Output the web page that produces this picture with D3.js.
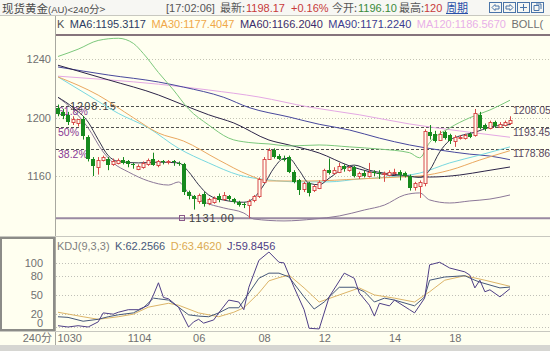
<!DOCTYPE html>
<html>
<head>
<meta charset="utf-8">
<script src="https://cdn.jsdelivr.net/npm/d3@7"></script>
<style>
  body { margin: 0; background: #fffff0; }
  svg { display: block; }
  text { font-family: "Liberation Sans", Arial, sans-serif; }
</style>
</head>
<body>
<svg id="chart" width="550" height="351"></svg>
<script>
// ---- candles (240 min), index 0 = 10/30 first bar ----
const opens  = [1207,1204,1202,1197,1196,1199,1187,1172,1166,1171,1172,1168,1169,1171,1170,1168,1165,1166,1168,1172,
                1167,1170,1169,1170,1169,1168,1149,1146,1143,1148,1141,1142,1146,1144,1146,1144,1142,1141,1140,1143,
                1146,1156,1172,1178,1174,1172,1173,1163,1157,1151,1155,1150,1152,1157,1164,1162,1163,1167,1164,1166,
                1160,1162,1160,1163,1162,1161,1161,1162,1163,1162,1160,1152,1153,1155,1190,1189,1185,1190,1188,1184,
                1186,1186,1189,1188,1202,1195,1193,1197,1194,1195,1196];
const highs  = [1209,1206,1204,1201,1199,1201,1188,1173,1173,1174,1173,1172,1172,1173,1171,1169,1168,1170,1172,1176,
                1171,1171,1171,1171,1170,1169,1150,1147,1148,1149,1145,1146,1148,1149,1147,1145,1143,1142,1144,1147,
                1159,1173,1179,1179,1175,1174,1174,1164,1158,1156,1156,1154,1157,1165,1172,1166,1169,1168,1167,1167,
                1163,1164,1169,1164,1164,1163,1164,1165,1164,1163,1161,1156,1157,1192,1195,1191,1191,1191,1189,1188,
                1188,1189,1190,1206,1204,1196,1198,1198,1197,1198,1201];
const lows   = [1201,1199,1195,1195,1194,1185,1170,1160,1161,1170,1164,1167,1168,1168,1166,1165,1164,1165,1167,1167,
                1166,1168,1168,1167,1167,1147,1144,1137,1141,1139,1140,1141,1142,1143,1143,1141,1139,1138,1131,1142,
                1145,1155,1171,1172,1171,1170,1162,1155,1147,1149,1146,1149,1151,1156,1161,1161,1162,1163,1163,1159,
                1158,1159,1159,1160,1158,1156,1160,1161,1157,1159,1150,1150,1145,1153,1185,1183,1184,1185,1182,1180,
                1185,1185,1186,1187,1192,1191,1192,1193,1193,1194,1195];
const closes = [1203,1201,1197,1199,1199,1187,1172,1167,1171,1173,1168,1170,1171,1169,1168,1167,1167,1169,1171,1168,
                1170,1169,1170,1169,1168,1149,1146,1144,1147,1141,1144,1145,1143,1147,1144,1142,1140,1140,1143,1146,
                1158,1172,1178,1173,1172,1171,1163,1156,1150,1155,1148,1153,1156,1164,1162,1164,1167,1165,1166,1160,
                1162,1160,1163,1162,1161,1162,1163,1163,1161,1160,1152,1155,1156,1191,1187,1184,1189,1186,1184,1187,
                1187,1188,1187,1203,1193,1192,1197,1194,1196,1197,1198.17];

// ---- moving averages / bollinger, read as [bar index, price] ----
const ma6 = [[0,1214],[3,1207],[6,1197],[8,1185],[10,1174],[12,1170],[16,1169],[20,1169.5],[24,1169],[26,1163],
             [28,1154],[30,1147],[33,1143.5],[37,1142],[39,1145],[41,1154],[43,1165.5],[45,1172],[46,1172],[48,1164],
             [50,1155],[52,1154],[54,1158.5],[57,1165.5],[59,1167.5],[62,1164],[66,1161.5],[70,1160],[72,1159],[74,1164],
             [76,1176.5],[78,1184.5],[80,1187.5],[83,1190],[86,1193.5],[90,1195.3]];
const ma30 = [[0,1228],[8,1215.5],[15,1200],[20,1189.5],[25,1184],[32,1171],[38,1160.7],[42,1156.6],[50,1156.6],
              [60,1158],[68,1159.3],[72,1160],[78,1164],[84,1171],[90,1177.4]];
const ma60 = [[0,1236],[10,1226],[20,1215.6],[25,1208.7],[30,1202],[35,1196.4],[42,1184.7],[46,1181.3],[52,1175.8],
              [58,1167],[62,1163],[68,1160],[74,1159.3],[80,1160.7],[85,1163.4],[90,1166.2]];
const ma90 = [[0,1234.8],[10,1229.3],[20,1224.5],[25,1221],[33,1214],[38,1207],[46,1200.5],[52,1195.5],[58,1191.6],
              [64,1186],[70,1181.3],[76,1177.8],[82,1175],[86,1173.7],[90,1171.2]];
const ma120 = [[0,1228.5],[10,1226],[20,1223],[30,1219],[40,1214.2],[50,1207.3],[60,1202],[70,1195.7],[80,1190.9],[90,1186.6]];
const bollUp = [[0,1242],[4,1247],[8,1253],[12,1254.5],[15,1251],[17,1244],[20,1231],[23,1219],[26,1206],[30,1195],
                [34,1186],[38,1183],[42,1182],[46,1180.6],[52,1181.3],[58,1180],[64,1178.5],[70,1176],[72,1172.5],
                [74,1183],[78,1193],[82,1200],[86,1205.3],[90,1212]];
const bollMid = [[0,1228],[6,1215.5],[12,1203],[18,1193],[24,1179],[30,1169],[36,1160.7],[42,1157.3],[48,1156],
                 [54,1156],[60,1158],[66,1159.3],[72,1162],[78,1169],[84,1174.4],[90,1180]];
const bollLow = [[0,1214],[3,1205.3],[6,1193],[9,1176.5],[11,1169],[14,1162.8],[18,1156.6],[22,1153.8],[24,1155.9],
                 [26,1148.4],[29,1142.2],[33,1138.1],[37,1134.6],[39,1130.5],[45,1129.2],[51,1130.5],[56,1132.6],
                 [61,1136.7],[65,1140.1],[69,1147],[72,1148.4],[74,1143.6],[78,1141.5],[82,1142.9],[86,1144.2],[90,1147]];

// ---- KDJ(9,3,3) ----
const kLine = [[0,16],[2,15],[5,9],[8,12],[10,16],[12,19],[15,22],[17,30],[19,45],[20,44],[22,42],[24,31],[26,19],
               [28,17],[30,16],[32,22],[34,30],[36,30],[38,53],[40,76],[42,84],[44,84],[46,78],[49,47],[51,28],[53,39],
               [56,62],[59,62],[61,55],[63,39],[65,45],[67,42],[71,33],[73,47],[74,73],[77,78],[81,80],[83,73],[84,70],
               [88,61],[90,62.3]];
const dLine = [[0,23],[5,16],[8,12],[12,16],[15,20],[18,31],[22,37],[24,34],[28,22],[32,16],[35,23],[37,30],[40,53],
               [42,72],[44,77],[46,81],[49,61],[52,39],[56,50],[60,61],[63,50],[67,45],[71,39],[74,55],[77,73],[81,80],
               [85,73],[90,63.5]];
const jLine = [[0,2],[2,0],[4,2],[6,0],[8,8],[9,22],[11,20],[12,23],[14,27],[16,27],[18,34],[19,50],[20,69],[21,46],
               [22,44],[24,31],[26,0],[27,8],[28,12],[29,6],[31,11],[32,22],[34,42],[36,39],[37,27],[38,62],[40,104],
               [42,117],[44,101],[45,100],[47,62],[49,27],[50,-2],[52,-3],[54,47],[57,84],[59,76],[60,53],[62,34],
               [63,17],[64,37],[66,33],[67,42],[70,27],[71,22],[73,45],[74,97],[76,101],[78,92],[81,86],[82,81],
               [83,61],[84,73],[85,55],[86,58],[88,47],[90,59.8]];

// ---- axis ticks / labels ----
const priceTicks = [1160, 1200, 1240];
const kdjTicks = [0, 20, 50, 80, 100];
const dateIdx = [0, 14, 27, 40, 52, 66, 78];
const dateLabels = ["1030", "1104", "06", "08", "12", "14", "18"];
const fibLevels = [1208.05, 1193.45, 1178.86];
const fibPct = ["61.8%", "50%", "38.2%"];
const lowPrice = 1131.00;

const svg = d3.select("#chart");
const W = 550, H = 351;

const x = d3.scaleLinear().domain([0, 90]).range([58, 510]);
const y = d3.scaleLinear().domain([1131, 1240]).range([218.3, 59.4]);
const yk = d3.scaleLinear().domain([0, 100]).range([327, 262.9]);

// 背景
svg.append("rect").attr("width", W).attr("height", H).attr("fill", "#fffff0");
svg.append("rect").attr("width", W).attr("height", 15).attr("fill", "#f7f7f3");
svg.append("line").attr("x1", 0).attr("x2", W).attr("y1", 15.5).attr("y2", 15.5).attr("stroke", "#c8c8c0");
svg.append("rect").attr("y", 345).attr("width", W).attr("height", 6).attr("fill", "#d6d6d2");

// 框线
svg.append("line").attr("x1", 55.5).attr("x2", 55.5).attr("y1", 16).attr("y2", 345).attr("stroke", "#a8a8a0");
svg.append("line").attr("x1", 0).attr("x2", W).attr("y1", 236.5).attr("y2", 236.5).attr("stroke", "#c8c8c0");
svg.append("line").attr("x1", 0).attr("x2", W).attr("y1", 331.5).attr("y2", 331.5).attr("stroke", "#c8c8c0");
svg.append("rect").attr("x", 1).attr("y", 238).attr("width", 53).attr("height", 92)
  .attr("fill", "none").attr("stroke", "#8c8c88").attr("stroke-width", 2);

// 标题行
const title = svg.append("text").attr("x", 2).attr("y", 12.5).attr("fill", "#4a4a4a").style("font-size", "11px");
title.append("tspan").style("font-family", "Noto Sans CJK SC").style("font-size", "11.5px").text("现货黄金");
title.append("tspan").style("font-size", "9.5px").text("(AU)<240");
title.append("tspan").style("font-family", "Noto Sans CJK SC").style("font-size", "10.5px").text("分>");

const info = svg.append("text").attr("y", 12).style("font-size", "11px").attr("fill", "#555");
[
  { x: 166, t: "[17:02:06]", c: "#555" },
  { x: 220, t: "最新:", c: "#555", cjk: true },
  { x: 246, t: "1198.17", c: "#c83a3a" },
  { x: 291, t: "+0.16%", c: "#c83a3a" },
  { x: 332, t: "今开:", c: "#555", cjk: true },
  { x: 358, t: "1196.10", c: "#3a8a3a" },
  { x: 399, t: "最高:", c: "#555", cjk: true },
  { x: 424, t: "120", c: "#c83a3a" },
  { x: 446, t: "周期", c: "#2850a8", cjk: true }
].forEach(d => {
  info.append("tspan").attr("x", d.x).attr("fill", d.c)
    .style("font-family", d.cjk ? "Noto Sans CJK SC" : null).text(d.t);
});
svg.append("line").attr("x1", 446).attr("x2", 468).attr("y1", 13.5).attr("y2", 13.5).attr("stroke", "#2850a8");

// 按钮图标
const icons = svg.append("g").attr("stroke", "#4a74a8").attr("fill", "none");
[489, 503, 517, 531].forEach((bx, k) => {
  icons.append("rect").attr("x", bx + 0.5).attr("y", 2.5).attr("width", 12).attr("height", 10);
  const p = [
    `M${bx+3},7.5 L${bx+6},4.5 L${bx+6},6 L${bx+10},6 L${bx+10},9 L${bx+6},9 L${bx+6},10.5 Z`,
    `M${bx+10},7.5 L${bx+7},4.5 L${bx+7},6 L${bx+3},6 L${bx+3},9 L${bx+7},9 L${bx+7},10.5 Z`,
    `M${bx+3},7.5 L${bx+10},7.5 M${bx+6.5},4 L${bx+6.5},11`,
    `M${bx+3},5.5 h5 v5 h-5 Z M${bx+5},4 h5 v5`
  ][k];
  icons.append("path").attr("d", p);
});

// 均线图例
const legend = svg.append("text").attr("x", 57).attr("y", 28).style("font-size", "11px");
[
  ["K", "#505050"], ["MA6:1195.3117", "#2c3c64"], ["MA30:1177.4047", "#f0a848"],
  ["MA60:1166.2040", "#3c2c6c"], ["MA90:1171.2240", "#3c3c90"], ["MA120:1186.5670", "#e8b0e8"], ["BOLL(", "#707070"]
].forEach((d, i) => {
  legend.append("tspan").attr("dx", i ? 5.5 : 0).attr("fill", d[1]).text(d[0]);
});

// 价格轴 + 网格
const gy = svg.append("g").attr("transform", "translate(51,0)")
  .call(d3.axisLeft(y).tickValues(priceTicks).tickSize(0).tickPadding(0).tickFormat(d3.format("d")));
gy.select(".domain").remove();
gy.selectAll("text").attr("fill", "#707070").style("font-size", "11px").style("font-family", "Liberation Sans");

svg.append("g").selectAll("line").data(priceTicks).join("line")
  .attr("x1", 56).attr("x2", W)
  .attr("y1", d => Math.round(y(d)) + 0.5).attr("y2", d => Math.round(y(d)) + 0.5)
  .attr("stroke", "#c4c4b4").attr("stroke-dasharray", "1,2");

// 最高线 / 最低线
svg.append("line").attr("x1", 56).attr("x2", W).attr("y1", 35).attr("y2", 35)
  .attr("stroke", "#5e4656").attr("stroke-width", 1.5);
svg.append("line").attr("x1", 56).attr("x2", W).attr("y1", y(lowPrice)).attr("y2", y(lowPrice))
  .attr("stroke", "#9a8aa2").attr("stroke-width", 2);

// 黄金分割
svg.append("g").selectAll("line").data(fibLevels).join("line")
  .attr("x1", 56).attr("x2", W)
  .attr("y1", d => Math.round(y(d)) + 0.5).attr("y2", d => Math.round(y(d)) + 0.5)
  .attr("stroke", "#505050").attr("stroke-dasharray", "3,2");
svg.append("g").selectAll("text").data(fibLevels).join("text")
  .attr("x", 58).attr("y", d => y(d) + 9)
  .attr("fill", "#8a3a96").style("font-size", "10.5px")
  .text((d, i) => fibPct[i]);
svg.append("g").selectAll("text").data(fibLevels).join("text")
  .attr("x", 513).attr("y", d => y(d) + 8.5)
  .attr("fill", "#5a4a62").style("font-size", "10.5px")
  .text(d => d.toFixed(2));
svg.append("text").attr("x", 70).attr("y", 109.5).attr("fill", "#404040")
  .style("font-size", "11px").style("letter-spacing", "1px").text("1208.15");

// 均线与布林带
const line = d3.line().x(d => x(d[0])).y(d => y(d[1])).curve(d3.curveMonotoneX);
const series = [
  [ma120, "#e4a8e4"], [ma90, "#48489c"], [ma60, "#2c2448"], [bollUp, "#7cc87c"],
  [bollLow, "#8c7898"], [bollMid, "#78d8e0"], [ma30, "#eaa860"], [ma6, "#34344c"]
];
svg.append("g").selectAll("path").data(series).join("path")
  .attr("d", d => line(d[0])).attr("fill", "none")
  .attr("stroke", d => d[1]).attr("stroke-width", 1);

// K线
const upColor = "#d84a4a", downColor = "#178a1e";
const bars = svg.append("g");
const idx = d3.range(opens.length);
const cx = i => Math.round(x(i)) + 0.5;
const isUp = i => closes[i] >= opens[i];
bars.selectAll("line").data(idx).join("line")
  .attr("x1", cx).attr("x2", cx)
  .attr("y1", i => y(highs[i])).attr("y2", i => y(lows[i]))
  .attr("stroke", i => isUp(i) ? upColor : downColor);
bars.selectAll("rect").data(idx).join("rect")
  .attr("x", i => isUp(i) ? cx(i) - 1.5 : cx(i) - 2.5)
  .attr("width", i => isUp(i) ? 3 : 4)
  .attr("y", i => Math.round(y(Math.max(opens[i], closes[i]))) + (isUp(i) ? 0.5 : 0))
  .attr("height", i => Math.max(1, Math.round(Math.abs(y(opens[i]) - y(closes[i])))))
  .attr("fill", i => isUp(i) ? "#fffff0" : downColor)
  .attr("stroke", i => isUp(i) ? upColor : "none");

// 最低价标记
svg.append("rect").attr("x", 179.5).attr("y", 215.5).attr("width", 5).attr("height", 5)
  .attr("fill", "none").attr("stroke", "#8a5a8a");
svg.append("text").attr("x", 189).attr("y", 222).attr("fill", "#404040")
  .style("font-size", "11px").style("letter-spacing", "1px").text(lowPrice.toFixed(2));

// KDJ
const gk = svg.append("g").attr("transform", "translate(43,0)")
  .call(d3.axisLeft(yk).tickValues(kdjTicks).tickSize(0).tickPadding(0));
gk.select(".domain").remove();
gk.selectAll("text").attr("fill", "#707070").style("font-size", "11px").style("font-family", "Liberation Sans")
  .attr("dy", d => d === 0 ? "-0.05em" : "0.32em");

svg.append("g").selectAll("line").data(kdjTicks).join("line")
  .attr("x1", 56).attr("x2", W)
  .attr("y1", d => Math.round(yk(d)) + 0.5).attr("y2", d => Math.round(yk(d)) + 0.5)
  .attr("stroke", "#c0c0b8").attr("stroke-dasharray", "1,2");

const kline = d3.line().x(d => x(d[0])).y(d => yk(d[1]));
svg.append("g").selectAll("path")
  .data([[dLine, "#dcb468"], [kLine, "#46587a"], [jLine, "#4e3e86"]]).join("path")
  .attr("d", d => kline(d[0])).attr("fill", "none")
  .attr("stroke", d => d[1]).attr("stroke-width", 1);

const kLegend = svg.append("text").attr("x", 57).attr("y", 250).style("font-size", "11px");
[
  ["KDJ(9,3,3)", "#808080"], ["K:62.2566", "#46587a"], ["D:63.4620", "#dcaa50"], ["J:59.8456", "#4e3e86"]
].forEach((d, i) => {
  kLegend.append("tspan").attr("dx", i ? 5.5 : 0).attr("fill", d[1]).text(d[0]);
});

// 时间轴
const gx = svg.append("g").attr("transform", "translate(0,334)")
  .call(d3.axisBottom(x).tickValues(dateIdx).tickSize(0).tickPadding(0)
    .tickFormat((d, i) => dateLabels[i]));
gx.select(".domain").remove();
gx.selectAll("text").attr("text-anchor", "start").attr("dx", -1)
  .attr("fill", "#707070").style("font-size", "11px").style("font-family", "Liberation Sans");

svg.append("text").attr("x", 52).attr("y", 342).attr("text-anchor", "end")
  .attr("fill", "#707070").style("font-size", "11px")
  .call(t => {
    t.append("tspan").text("240");
    t.append("tspan").style("font-family", "Noto Sans CJK SC").text("分");
  });
</script>
</body>
</html>
